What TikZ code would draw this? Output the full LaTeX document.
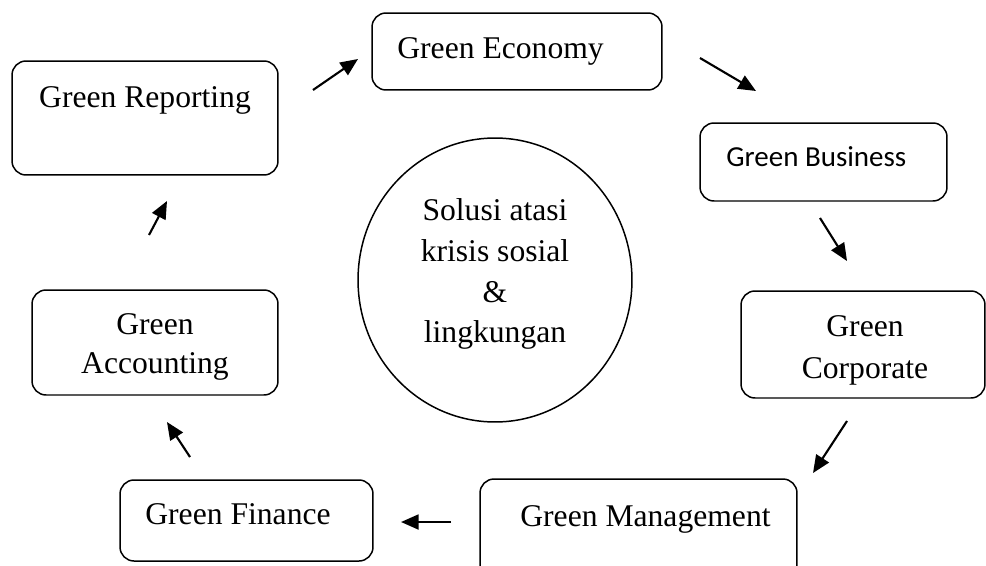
\documentclass[tikz,border=0pt]{standalone}
\usepackage{fontspec}
\setmainfont{Liberation Serif}
\newfontfamily\calibri{Carlito}
\usetikzlibrary{arrows.meta,shapes.geometric}

\begin{document}
\begin{tikzpicture}[x=0.02cm,y=-0.02cm,>={Triangle[length=10pt,width=8.5pt]},
    font=\fontsize{18}{23.3}\selectfont,
    box/.style={draw,line width=0.85pt,rounded corners=0.28cm,inner sep=0pt},
    txt/.style={inner sep=0pt},
    arr/.style={->,line width=1.2pt}]
  \path[use as bounding box,clip] (0,0) rectangle (986,565);

  % boxes round the circle
  \node[box,minimum width=5.32cm,minimum height=2.28cm] (rep) at (145,118) {};
  \node[box,minimum width=5.8cm,minimum height=1.54cm] (eco) at (517,51.5) {};
  \node[box,minimum width=4.94cm,minimum height=1.56cm] (bus) at (823.5,162) {};
  \node[box,minimum width=4.88cm,minimum height=2.14cm] (cor) at (863,344.5) {};
  \node[box,minimum width=6.34cm,minimum height=2.42cm] (man) at (638.5,539.5) {};
  \node[box,minimum width=5.06cm,minimum height=1.62cm] (fin) at (246.5,520.5) {};
  \node[box,minimum width=4.92cm,minimum height=2.1cm] (acc) at (155,342.5) {};

  % box texts
  \node[txt,anchor=base] (reptxt) at (145,107) {Green Reporting};
  \node[txt,anchor=base west] (ecotxt) at (397,58) {Green Economy};
  \node[txt,anchor=base west,font=\calibri\fontsize{16.5}{20}\selectfont] (bustxt) at (726,166) {Green Business};
  \node[txt,align=center,font=\fontsize{18}{23.8}\selectfont] (cortxt) at (865,350) {Green\\Corporate};
  \node[txt,anchor=base west] (mantxt) at (520,526) {Green Management};
  \node[txt,anchor=base west] (fintxt) at (145,524) {Green Finance};
  \node[txt,align=center,font=\fontsize{18}{22.1}\selectfont] (acctxt) at (155,347) {Green\\Accounting};

  % centre
  \node[draw,ellipse,line width=0.85pt,minimum width=5.48cm,minimum height=5.68cm,inner sep=0pt] (sol) at (495,280) {};
  \node[txt,align=center] (soltxt) at (495,274) {Solusi atasi\\krisis sosial\\\&\\lingkungan};

  % arrow ends
  \coordinate (a1s) at (313,90);  \coordinate (a1e) at (358,59);
  \coordinate (a2s) at (700,58);  \coordinate (a2e) at (756,91);
  \coordinate (a3s) at (820,218); \coordinate (a3e) at (847,261);
  \coordinate (a4s) at (847,421); \coordinate (a4e) at (813,473);
  \coordinate (a5s) at (451,522); \coordinate (a5e) at (401,522);
  \coordinate (a6s) at (190,457); \coordinate (a6e) at (167,422);
  \coordinate (a7s) at (149,235); \coordinate (a7e) at (167,201);

  % arrows
  \draw[arr] (a1s) -- (a1e);
  \draw[arr] (a2s) -- (a2e);
  \draw[arr] (a3s) -- (a3e);
  \draw[arr] (a4s) -- (a4e);
  \draw[arr] (a5s) -- (a5e);
  \draw[arr] (a6s) -- (a6e);
  \draw[arr] (a7s) -- (a7e);
\end{tikzpicture}
\end{document}
